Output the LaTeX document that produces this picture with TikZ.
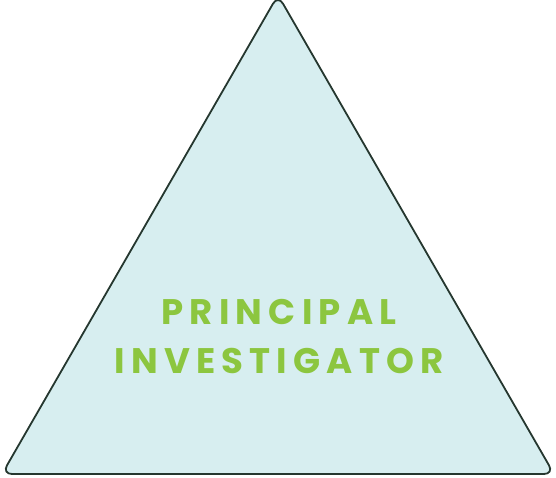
\documentclass[tikz,border=0pt]{standalone}
\usepackage{fontspec}
\newfontfamily\pifont[LetterSpace=17.5]{Poppins}
\definecolor{trifill}{HTML}{D7EEF0}
\definecolor{tridraw}{HTML}{25372F}
\definecolor{pigreen}{HTML}{8CC63F}
\begin{document}
\begin{tikzpicture}[x=1pt,y=-1pt,
  tri/.style={draw=tridraw,fill=trifill,line width=1.8pt,rounded corners=10pt,line join=round},
  label/.style={text=pigreen,font=\pifont\bfseries\fontsize{35.5}{49}\selectfont,align=center,inner sep=0pt}]
\useasboundingbox (0,0) rectangle (556,477);
\coordinate (apex) at (278,-5);
\coordinate (bl) at (2,474);
\coordinate (br) at (554,474);
\draw[tri] (apex) -- (br) -- (bl) -- cycle;
\node[label,anchor=base] (l1) at (279,324) {PRINCIPAL};
\node[label,anchor=base] (l2) at (279,373) {INVESTIGATOR};
\end{tikzpicture}
\end{document}
